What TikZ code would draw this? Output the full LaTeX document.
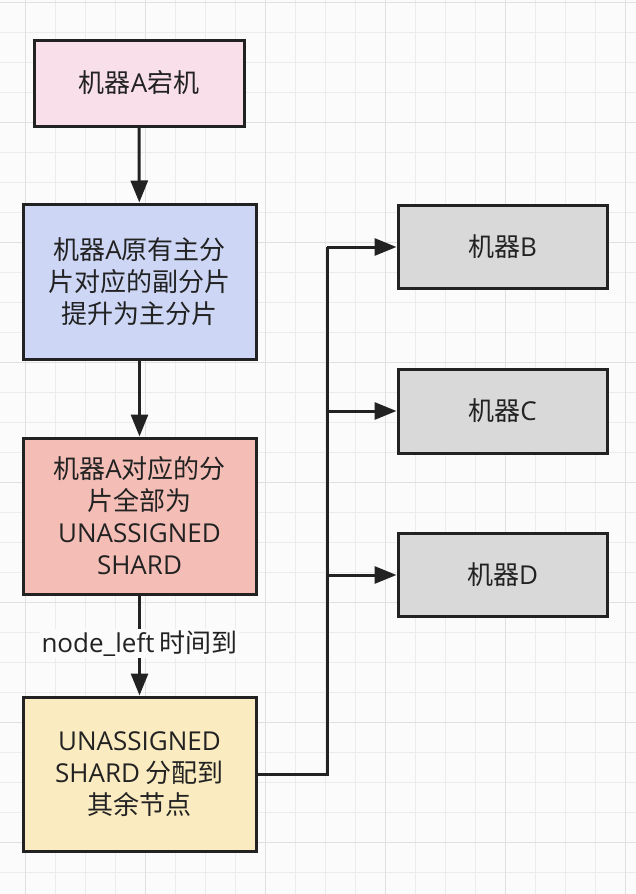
\documentclass[tikz,border=0pt]{standalone}
\usepackage{fontspec}
\setmainfont{Noto Sans CJK SC}
\newfontfamily\lat{Open Sans}
\usetikzlibrary{arrows.meta,calc}
\definecolor{bgc}{RGB}{251,251,251}
\definecolor{gridminor}{RGB}{236,236,236}
\definecolor{gridmajor}{RGB}{224,224,224}
\definecolor{ink}{RGB}{34,34,34}
\definecolor{fpink}{RGB}{248,223,233}
\definecolor{fblue}{RGB}{205,215,245}
\definecolor{fred}{RGB}{244,190,183}
\definecolor{fyellow}{RGB}{250,235,192}
\definecolor{fgray}{RGB}{217,217,217}
\tikzset{
  boxstyle/.style={draw=ink, line width=3pt, text=ink, align=center,
    font=\fontsize{26pt}{32pt}\selectfont, inner sep=0pt},
  conn/.style={draw=ink, line width=3pt},
  arr/.style={conn, -{Triangle[length=22pt,width=17pt]}},
  lbl/.style={fill=bgc, text=ink, inner sep=2pt, font=\fontsize{26pt}{28pt}\selectfont}
}
\begin{document}
\begin{tikzpicture}[x=1pt,y=-1pt]
\useasboundingbox (0,0) rectangle (636,894);
\fill[bgc] (0,0) rectangle (636,894);
\foreach \x in {-5,25,...,635} \draw[gridminor, line width=1pt] (\x,0) -- (\x,894);
\foreach \y in {2,32,...,894} \draw[gridminor, line width=1pt] (0,\y) -- (636,\y);
\foreach \x in {25,145,...,635} \draw[gridmajor, line width=1pt] (\x,0) -- (\x,894);
\foreach \y in {2,122,...,894} \draw[gridmajor, line width=1pt] (0,\y) -- (636,\y);

\node[boxstyle, fill=fpink, minimum width=210pt, minimum height=86pt] (n1) at (139,83) {机器{\lat A}宕机};
\node[boxstyle, fill=fblue, minimum width=233pt, minimum height=155pt] (n2) at (139.5,281.5) {机器{\lat A}原有主分\\片对应的副分片\\提升为主分片};
\node[boxstyle, fill=fred, minimum width=233pt, minimum height=156pt] (n3) at (139.5,516) {机器{\lat A}对应的分\\片全部为\\{\lat UNASSIGNED}\\{\lat SHARD}};
\node[boxstyle, fill=fyellow, minimum width=233pt, minimum height=154pt] (n4) at (139.5,774) {{\lat UNASSIGNED}\\{\lat SHARD} 分配到\\其余节点};
\node[boxstyle, fill=fgray, minimum width=209pt, minimum height=83pt] (nB) at (502.5,247) {机器{\lat B}};
\node[boxstyle, fill=fgray, minimum width=209pt, minimum height=84pt] (nC) at (502.5,411) {机器{\lat C}};
\node[boxstyle, fill=fgray, minimum width=209pt, minimum height=83pt] (nD) at (502.5,575) {机器{\lat D}};

\draw[arr] (n1) -- (n2);
\draw[arr] (n2) -- (n3);
\draw[arr] (n3) -- node[lbl, pos=0.48] (lab) {{\lat node\_left}\hspace{5pt}时间到} (n4);

\coordinate (t) at (327,774);
\coordinate (tB) at (t |- nB.west);
\draw[conn, line join=miter] (n4.east) -- (t) -- (tB);
\draw[arr] (tB) -- (nB.west);
\draw[arr] (t |- nC.west) -- (nC.west);
\draw[arr] (t |- nD.west) -- (nD.west);
\end{tikzpicture}
\end{document}
